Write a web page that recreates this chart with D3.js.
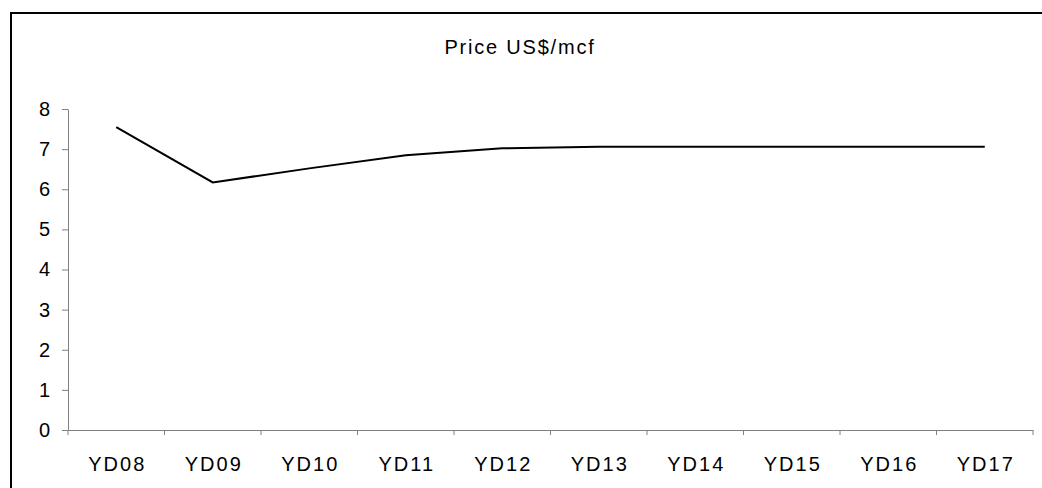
<!DOCTYPE html>
<html>
<head>
<meta charset="utf-8">
<script src="https://cdn.jsdelivr.net/npm/d3@7"></script>
<style>
  html, body { margin: 0; padding: 0; background: #fff; }
  svg { display: block; font-family: "Liberation Sans", Arial, sans-serif; }
</style>
</head>
<body>
<svg id="chart" width="1042" height="488"></svg>
<script>
// Gas price outlook by year
const years = ["YD08", "YD09", "YD10", "YD11", "YD12", "YD13", "YD14", "YD15", "YD16", "YD17"];
const price = [7.55, 6.17, 6.52, 6.85, 7.02, 7.06, 7.06, 7.06, 7.06, 7.06];
const yTicks = [0, 1, 2, 3, 4, 5, 6, 7, 8];
const title = "Price US$/mcf";

const svg = d3.select("#chart");
const W = 1042, H = 488;
const plot = { left: 68, right: 1033, top: 109, bottom: 430 };
const fontFamily = "Liberation Sans, Arial, sans-serif";

svg.append("rect").attr("width", W).attr("height", H).attr("fill", "#fff");

// outer frame (top and left edges visible)
svg.append("path")
  .attr("d", `M11,${H} L11,13 L${W},13`)
  .attr("fill", "none").attr("stroke", "#000").attr("stroke-width", 2);

const x = d3.scaleBand().domain(years).range([plot.left, plot.right]).padding(0);
const y = d3.scaleLinear().domain([0, 8]).range([plot.bottom, plot.top]);

// title
svg.append("text")
  .attr("x", 520).attr("y", 54)
  .attr("text-anchor", "middle")
  .attr("font-size", 20)
  .attr("letter-spacing", 1.8)
  .attr("fill", "#000")
  .text(title);

// y axis
const yAxis = svg.append("g")
  .attr("transform", `translate(${plot.left},0)`)
  .call(d3.axisLeft(y).tickValues(yTicks).tickSize(6).tickPadding(12).tickSizeOuter(0));
yAxis.select(".domain").attr("stroke", "#808080");
yAxis.selectAll(".tick line").attr("stroke", "#808080");
yAxis.selectAll(".tick text").attr("font-size", 20).attr("fill", "#000")
  .attr("font-family", fontFamily);

// x axis with ticks on category boundaries
const xAxis = svg.append("g")
  .attr("transform", `translate(0,${plot.bottom})`)
  .call(d3.axisBottom(x).tickSize(0).tickPadding(27).tickSizeOuter(0));
xAxis.select(".domain").attr("stroke", "#808080");
xAxis.selectAll(".tick text").attr("font-size", 20).attr("fill", "#000")
  .attr("letter-spacing", 2)
  .attr("dx", 1)
  .attr("font-family", fontFamily);
const bounds = years.map(d => x(d)).concat([x(years[years.length - 1]) + x.bandwidth()]);
svg.append("g").selectAll("line").data(bounds).join("line")
  .attr("x1", d => d).attr("x2", d => d)
  .attr("y1", plot.bottom).attr("y2", plot.bottom + 5)
  .attr("stroke", "#808080").attr("stroke-width", 1);

// price line
const line = d3.line()
  .x((d, i) => x(years[i]) + x.bandwidth() / 2)
  .y(d => y(d));
svg.append("path")
  .datum(price)
  .attr("d", line)
  .attr("fill", "none")
  .attr("stroke", "#000")
  .attr("stroke-width", 2);
</script>
</body>
</html>
